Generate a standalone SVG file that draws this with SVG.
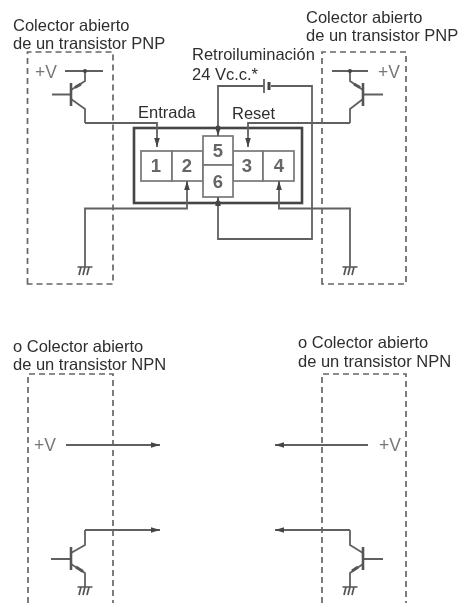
<svg xmlns="http://www.w3.org/2000/svg" width="461" height="603" viewBox="0 0 461 603">
<style>
text{font-family:"Liberation Sans",Arial,sans-serif;fill:#2e2e2e;font-size:16.5px}
.v{fill:#777;font-size:17.5px}
.n{fill:#666;font-size:18.5px;font-weight:bold;text-anchor:middle}
.d{fill:none;stroke:#666;stroke-width:1.7;stroke-dasharray:6 4}
.w{fill:none;stroke:#606060;stroke-width:1.8}
.c{fill:#fff;stroke:#777;stroke-width:1.7}
.a{marker-end:url(#ah)}
.b{fill:none;stroke:#555;stroke-width:2.6}
.e{fill:none;stroke:#555;stroke-width:3}
</style>
<defs>
<filter id="soft" x="0" y="0" width="100%" height="100%"><feGaussianBlur stdDeviation="0.4"/></filter>
<marker id="ah" markerUnits="userSpaceOnUse" markerWidth="10" markerHeight="8" refX="9" refY="4" orient="auto"><path d="M0 1.2L9 4L0 6.8z" fill="#444"/></marker>
<g id="gnd"><path d="M-7.5 0H7.5M-4 0L-6 8M0 0L-2 8M4 0L2 8" fill="none" stroke="#555" stroke-width="1.7"/></g>
</defs>
<rect width="461" height="603" fill="#fff"/>
<g filter="url(#soft)">
<g id="labels">
<text x="13" y="31">Colector abierto</text><text x="13" y="49">de un transistor PNP</text>
<text x="306" y="23">Colector abierto</text><text x="306" y="41">de un transistor PNP</text>
<text x="192" y="60">Retroiluminación</text><text x="192" y="80">24 Vc.c.*</text>
<text x="138" y="118">Entrada</text><text x="232" y="119">Reset</text>
<text x="13" y="352">o Colector abierto</text><text x="13" y="370">de un transistor NPN</text>
<text x="298" y="348">o Colector abierto</text><text x="298" y="367">de un transistor NPN</text>
</g>
<g id="terminal-block">
<rect x="134" y="128" width="168" height="75" fill="#fff" stroke="#444" stroke-width="2.6"/>
<g id="t1"><rect class="c" x="141" y="151" width="31" height="30"/><text class="n" x="156" y="172">1</text></g>
<g id="t2"><rect class="c" x="172" y="151" width="31" height="30"/><text class="n" x="187" y="172">2</text></g>
<g id="t3"><rect class="c" x="233" y="151" width="30" height="30"/><text class="n" x="247" y="172">3</text></g>
<g id="t4"><rect class="c" x="263" y="151" width="31" height="30"/><text class="n" x="279" y="172">4</text></g>
<g id="t5"><rect class="c" x="203" y="136" width="30" height="29"/><text class="n" x="218" y="157">5</text></g>
<g id="t6"><rect class="c" x="203" y="165" width="30" height="32"/><text class="n" x="218" y="188">6</text></g>
</g>
<g id="pnp-left">
<path class="d" d="M27.5 284V52H113V284Z"/>
<text class="v" x="35" y="78">+V</text>
<path class="w" d="M65 71H103M85 71V81L71 90M52 94.5H71M71 99L85 109V123"/>
<path class="b" d="M71 83V106"/>
<path class="e" d="M81 84L75 87.5"/>
<circle cx="85" cy="71" r="2" fill="#444"/>
<use href="#gnd" x="85" y="267"/>
</g>
<g id="pnp-right">
<path class="d" d="M322 284V52H406V284Z"/>
<text class="v" x="378" y="78">+V</text>
<path class="w" d="M332 71H368M350 71V81L363 90M383 94.5H363M363 99L350 109V123"/>
<path class="b" d="M363 83V106"/>
<path class="e" d="M354 84L360 87.5"/>
<circle cx="350" cy="71" r="2" fill="#444"/>
<use href="#gnd" x="350" y="267"/>
</g>
<g id="npn-left">
<path class="d" d="M28 603V374H113V603"/>
<text class="v" x="34" y="451">+V</text>
<path class="w" d="M85 530V545L71 553M51 559H71M71 564L85 573V587"/>
<path class="b" d="M71 547V570"/>
<path class="e" d="M76 567L83 571.5"/>
<use href="#gnd" x="85" y="587"/>
</g>
<g id="npn-right">
<path class="d" d="M322 603V374H406V603"/>
<text class="v" x="379" y="451">+V</text>
<path class="w" d="M350 530V545L363 553M383 559H363M363 564L350 573V587"/>
<path class="b" d="M363 547V570"/>
<path class="e" d="M358 567L352 571"/>
<use href="#gnd" x="350" y="587"/>
</g>
<g id="battery">
<path d="M264 79V93" stroke="#555" stroke-width="1.7"/>
<path d="M269 82V90" stroke="#444" stroke-width="3"/>
</g>
<g id="connectors">
<path class="w a" d="M85 123H157V147"/>
<path class="w a" d="M85 267V208.5H187V181"/>
<path class="w a" d="M350 123H248V147"/>
<path class="w a" d="M350 267V208.5H279V181"/>
<path class="w a" d="M264 86H218V136"/>
<path class="w a" d="M271 86H312V239H218V197"/>
<circle cx="218" cy="128" r="2.5" fill="#444"/>
<circle cx="218" cy="203" r="2.5" fill="#444"/>
<path class="w a" d="M66 445H160"/>
<path class="w a" d="M85 530H160"/>
<path class="w a" d="M368 445H275"/>
<path class="w a" d="M350 530H275"/>
</g>
</g>
</svg>
